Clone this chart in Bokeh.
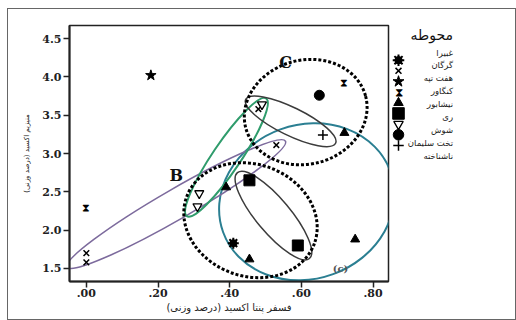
from bokeh.plotting import figure
from bokeh.layouts import row
from bokeh.models import Range1d, FixedTicker, Label, InlineStyleSheet, Title, Div
from bokeh.core.properties import value
from bokeh.embed import file_html
from bokeh.resources import INLINE

# ---------------- data ----------------
site_names = ["غبیرا", "گرگان", "هفت تپه", "کنگاور", "نیشابور", "ری", "شوش", "تخت سلیمان", "ناشناخته"]
site_kinds = ["ghob", "x", "star", "hourglass", "triangle", "square", "inverted_triangle", "circle", "cross"]

ghobeira_x = [0.41]
ghobeira_y = [1.83]
gorgan_x = [0.00, 0.00, 0.53, 0.48]
gorgan_y = [1.70, 1.58, 3.11, 3.58]
haft_tappeh_x = [0.18]
haft_tappeh_y = [4.02]
kangavar_x = [0.00, 0.72]
kangavar_y = [2.29, 3.93]
neyshabur_x = [0.39, 0.455, 0.75, 0.72]
neyshabur_y = [2.56, 1.62, 1.88, 3.27]
rey_x = [0.455, 0.59]
rey_y = [2.65, 1.80]
shush_x = [0.315, 0.31, 0.49]
shush_y = [2.48, 2.31, 3.64]
takht_x = [0.65]
takht_y = [3.76]
unknown_x = [0.66]
unknown_y = [3.24]

series_x = [ghobeira_x, gorgan_x, haft_tappeh_x, kangavar_x, neyshabur_x, rey_x, shush_x, takht_x, unknown_x]
series_y = [ghobeira_y, gorgan_y, haft_tappeh_y, kangavar_y, neyshabur_y, rey_y, shush_y, takht_y, unknown_y]

x_ticks = [0.0, 0.2, 0.4, 0.6, 0.8]
x_tick_labels = [".00", ".20", ".40", ".60", ".80"]
y_ticks = [1.5, 2.0, 2.5, 3.0, 3.5, 4.0, 4.5]
y_tick_labels = ["1.5", "2.0", "2.5", "3.0", "3.5", "4.0", "4.5"]

x_title = "فسفر پنتا اکسید (درصد وزنی)"
y_title = "منیزیم اکسید (درصد وزنی)"
legend_title = "محوطه"

# grouping ellipses (centre in data units, size in screen px, angle in deg)
ell_x = [0.615, 0.251, 0.391, 0.570, 0.522, 0.612, 0.458]
ell_y = [2.37, 2.34, 2.95, 3.42, 2.19, 3.54, 2.13]
ell_w = [178, 252, 142, 100, 112, 124, 136]
ell_h = [154, 30, 28, 28, 34, 104, 112]
ell_angle = [20, 30, 56, -26, -50, 15, -20]
ell_color = ["#2b7f92", "#7d6b9d", "#2f9c6c", "#3c3c3c", "#3c3c3c", "#000000", "#000000"]
ell_width = [2, 1.6, 2, 1.5, 1.5, 3, 3]
ell_dash = ["solid", "solid", "solid", "solid", "solid", "3 2", "3 2"]

group_labels = ["C", "B", "(c)"]
group_label_x = [0.556, 0.251, 0.709]
group_label_y = [4.19, 2.71, 1.50]
group_label_size = ["16px", "16px", "10px"]
group_label_color = ["#111111", "#111111", "#555555"]


def draw_marker(fig, kind, xs, ys, scale=1.0):
    if kind == "ghob":
        fig.scatter(xs, ys, marker="circle", size=7 * scale, color="black")
        fig.scatter(xs, ys, marker="asterisk", size=11 * scale, line_color="black", line_width=2)
    elif kind == "hourglass":
        fig.text(xs, ys, text=["⧗"] * len(xs), text_font=value("DejaVu Sans"),
                 text_font_size=f"{11 * scale:.0f}px", text_align="center",
                 text_baseline="middle", text_color="black")
    elif kind == "x":
        fig.scatter(xs, ys, marker="x", size=8 * scale, line_color="black", line_width=1.5)
    elif kind == "cross":
        fig.scatter(xs, ys, marker="cross", size=10 * scale, line_color="black", line_width=1.5)
    elif kind == "star":
        fig.scatter(xs, ys, marker="star", size=11 * scale, color="black")
    elif kind == "triangle":
        fig.scatter(xs, ys, marker="triangle", size=9 * scale, color="black")
    elif kind == "square":
        fig.scatter(xs, ys, marker="square", size=11 * scale, color="black")
    elif kind == "inverted_triangle":
        fig.scatter(xs, ys, marker="inverted_triangle", size=9 * scale, fill_color="white",
                    line_color="black", line_width=1.3)
    elif kind == "circle":
        fig.scatter(xs, ys, marker="circle", size=10 * scale, color="black")


# ---------------- main plot ----------------
p = figure(width=383, height=310, x_range=Range1d(-0.047, 0.843), y_range=Range1d(1.33, 4.67),
           toolbar_location=None, output_backend="svg",
           min_border_left=61, min_border_right=3, min_border_top=16, min_border_bottom=38)
p.grid.visible = False
p.background_fill_color = "white"
p.border_fill_color = "white"
p.outline_line_color = "#222222"
p.outline_line_width = 1.5

for ax in (p.xaxis[0], p.yaxis[0]):
    ax.axis_line_width = 2
    ax.axis_line_color = "#222222"
    ax.major_tick_line_color = "#222222"
    ax.major_tick_line_width = 1.5
    ax.major_tick_out = 6
    ax.major_tick_in = 0
    ax.minor_tick_line_color = None
    ax.major_label_text_font = "DejaVu Serif"
    ax.major_label_text_font_style = "bold"
    ax.major_label_text_font_size = "11px"
    ax.major_label_text_color = "#222222"

p.xaxis.ticker = FixedTicker(ticks=x_ticks)
p.xaxis.major_label_overrides = dict(zip(x_ticks, x_tick_labels))
p.xaxis.major_label_standoff = 1
p.yaxis.ticker = FixedTicker(ticks=y_ticks)
p.yaxis.major_label_overrides = dict(zip(y_ticks, y_tick_labels))
p.yaxis.major_label_standoff = 2
p.yaxis.axis_label = y_title
p.yaxis.axis_label_text_font = "DejaVu Sans"
p.yaxis.axis_label_text_font_style = "normal"
p.yaxis.axis_label_text_font_size = "7px"
p.yaxis.axis_label_text_color = "#222222"
p.yaxis.axis_label_standoff = 8

p.add_layout(Title(text=x_title, align="center", offset=-28, standoff=0,
                   text_font="DejaVu Sans", text_font_style="normal", text_font_size="10px",
                   text_color="#222222"), "below")

solid_idx = [i for i in range(len(ell_x)) if ell_dash[i] == "solid"]
p.ellipse(x=[ell_x[i] for i in solid_idx], y=[ell_y[i] for i in solid_idx],
          width=[ell_w[i] for i in solid_idx], height=[ell_h[i] for i in solid_idx],
          angle=[ell_angle[i] for i in solid_idx], angle_units="deg",
          width_units="screen", height_units="screen", fill_color=None,
          line_color=[ell_color[i] for i in solid_idx], line_width=[ell_width[i] for i in solid_idx])
for i in range(len(ell_x)):
    if ell_dash[i] != "solid":
        p.ellipse(x=[ell_x[i]], y=[ell_y[i]], width=[ell_w[i]], height=[ell_h[i]],
                  angle=[ell_angle[i]], angle_units="deg", width_units="screen",
                  height_units="screen", fill_color=None, line_color=ell_color[i],
                  line_width=ell_width[i], line_dash=ell_dash[i])

for kind, xs, ys in zip(site_kinds, series_x, series_y):
    draw_marker(p, kind, xs, ys)

for t, lx, ly, fs, c in zip(group_labels, group_label_x, group_label_y, group_label_size, group_label_color):
    p.add_layout(Label(x=lx, y=ly, text=t, text_font="DejaVu Serif", text_font_style="bold",
                       text_font_size=fs, text_color=c, text_align="center", text_baseline="middle"))

# ---------------- legend: marker column (figure) + label column (HTML, right aligned) ----------------
LEG_H = 310
MARK_W = 14
LEG_Y0, LEG_DY = 42, 12.9
leg = figure(width=MARK_W, height=LEG_H, x_range=Range1d(0, MARK_W), y_range=Range1d(LEG_H, 0),
             toolbar_location=None, output_backend="svg", x_axis_type=None, y_axis_type=None,
             min_border=0)
leg.grid.visible = False
leg.outline_line_color = None
leg.border_fill_color = "white"
leg_y = [LEG_Y0 + i * LEG_DY for i in range(len(site_names))]
for i, kind in enumerate(site_kinds):
    draw_marker(leg, kind, [MARK_W / 2], [leg_y[i]], scale=1.05)

TEXT_COL_W = 48
items_html = "".join(
    f'<div style="position:absolute;right:0;top:{leg_y[i] - LEG_DY / 2 + 2:.1f}px;height:{LEG_DY}px;'
    f'line-height:{LEG_DY}px;font-size:8.5px;white-space:nowrap;">{name}</div>'
    for i, name in enumerate(site_names))
legend_html = (
    f'<div dir="rtl" style="position:relative;width:{TEXT_COL_W}px;height:{LEG_H}px;text-align:right;'
    f'font-family:\'DejaVu Sans\';color:#222;margin:0;padding:0;">'
    f'<div style="position:absolute;right:0;top:{26 - 9}px;height:18px;line-height:18px;'
    f'font-size:14px;color:#111;white-space:nowrap;">{legend_title}</div>'
    f'{items_html}</div>'
)
legend_div = Div(text=legend_html, width=110, height=LEG_H, margin=0,
                 styles={"background": "white"})

layout = row(p, leg, legend_div, margin=(9, 0, 0, 8),
             stylesheets=[InlineStyleSheet(css=":host { outline: 1px solid #666; }")])

open("out.html", "w").write(file_html(layout, INLINE))
